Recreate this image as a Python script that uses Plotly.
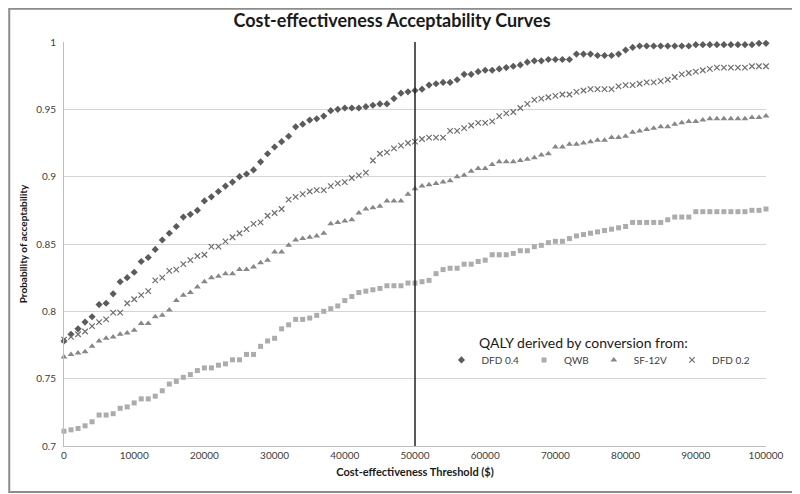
import plotly.graph_objects as go

thresholds = list(range(0, 100001, 1000))

dfd04 = [0.778, 0.783, 0.787, 0.792, 0.796, 0.805, 0.806, 0.813, 0.822, 0.825,
         0.829, 0.837, 0.840, 0.846, 0.853, 0.858, 0.863, 0.870, 0.872, 0.875,
         0.882, 0.885, 0.889, 0.893, 0.896, 0.900, 0.902, 0.905, 0.911, 0.917,
         0.922, 0.926, 0.930, 0.937, 0.939, 0.942, 0.943, 0.945, 0.949, 0.950,
         0.951, 0.951, 0.951, 0.952, 0.953, 0.954, 0.954, 0.958, 0.962, 0.963,
         0.964, 0.965, 0.968, 0.969, 0.970, 0.970, 0.972, 0.976, 0.976, 0.978,
         0.979, 0.979, 0.980, 0.981, 0.982, 0.983, 0.985, 0.986, 0.986, 0.987,
         0.987, 0.987, 0.987, 0.991, 0.991, 0.991, 0.990, 0.990, 0.990, 0.991,
         0.994, 0.996, 0.997, 0.997, 0.997, 0.997, 0.997, 0.997, 0.997, 0.997,
         0.998, 0.998, 0.998, 0.998, 0.998, 0.998, 0.998, 0.998, 0.998, 0.999,
         0.999]

qwb = [0.711, 0.712, 0.713, 0.715, 0.718, 0.723, 0.723, 0.724, 0.728, 0.729,
       0.732, 0.735, 0.735, 0.737, 0.741, 0.746, 0.748, 0.751, 0.753, 0.756,
       0.758, 0.758, 0.760, 0.761, 0.764, 0.764, 0.768, 0.768, 0.774, 0.778,
       0.780, 0.787, 0.790, 0.794, 0.794, 0.795, 0.797, 0.800, 0.802, 0.804,
       0.808, 0.811, 0.814, 0.815, 0.816, 0.817, 0.819, 0.819, 0.819, 0.821,
       0.821, 0.822, 0.823, 0.828, 0.831, 0.832, 0.832, 0.835, 0.835, 0.837,
       0.838, 0.842, 0.842, 0.842, 0.843, 0.845, 0.845, 0.848, 0.849, 0.851,
       0.852, 0.852, 0.854, 0.856, 0.857, 0.858, 0.859, 0.860, 0.861, 0.862,
       0.863, 0.866, 0.866, 0.866, 0.866, 0.866, 0.868, 0.870, 0.870, 0.870,
       0.874, 0.874, 0.874, 0.874, 0.874, 0.874, 0.874, 0.874, 0.875, 0.875,
       0.876]

sf12v = [0.766, 0.768, 0.769, 0.770, 0.774, 0.778, 0.780, 0.781, 0.783, 0.784,
         0.786, 0.791, 0.791, 0.796, 0.797, 0.801, 0.808, 0.812, 0.814, 0.818,
         0.822, 0.825, 0.826, 0.828, 0.828, 0.831, 0.831, 0.833, 0.836, 0.838,
         0.844, 0.844, 0.849, 0.853, 0.854, 0.855, 0.856, 0.858, 0.865, 0.866,
         0.867, 0.868, 0.873, 0.876, 0.877, 0.878, 0.882, 0.882, 0.882, 0.887,
         0.891, 0.893, 0.894, 0.895, 0.896, 0.897, 0.900, 0.901, 0.904, 0.906,
         0.906, 0.909, 0.911, 0.911, 0.911, 0.912, 0.913, 0.914, 0.916, 0.917,
         0.922, 0.922, 0.924, 0.924, 0.925, 0.926, 0.927, 0.927, 0.929, 0.929,
         0.930, 0.933, 0.934, 0.935, 0.936, 0.937, 0.937, 0.939, 0.940, 0.941,
         0.941, 0.942, 0.943, 0.943, 0.943, 0.943, 0.943, 0.943, 0.944, 0.944,
         0.945]

dfd02 = [0.779, 0.781, 0.783, 0.785, 0.789, 0.792, 0.794, 0.799, 0.799, 0.806,
         0.809, 0.812, 0.815, 0.823, 0.825, 0.830, 0.831, 0.835, 0.838, 0.841,
         0.842, 0.848, 0.848, 0.852, 0.855, 0.858, 0.861, 0.865, 0.866, 0.871,
         0.873, 0.876, 0.883, 0.885, 0.887, 0.889, 0.890, 0.890, 0.893, 0.895,
         0.896, 0.899, 0.901, 0.903, 0.912, 0.917, 0.918, 0.921, 0.923, 0.925,
         0.926, 0.928, 0.929, 0.929, 0.929, 0.934, 0.934, 0.936, 0.938, 0.940,
         0.940, 0.941, 0.945, 0.947, 0.948, 0.951, 0.954, 0.957, 0.958, 0.959,
         0.960, 0.961, 0.961, 0.963, 0.964, 0.965, 0.965, 0.965, 0.965, 0.967,
         0.968, 0.968, 0.969, 0.970, 0.970, 0.971, 0.972, 0.974, 0.976, 0.977,
         0.978, 0.979, 0.980, 0.981, 0.981, 0.981, 0.981, 0.981, 0.982, 0.982,
         0.982]

series_names = ["DFD 0.4", "QWB", "SF-12V", "DFD 0.2"]
y_tick_vals = [0.7, 0.75, 0.8, 0.85, 0.9, 0.95, 1.0]
y_tick_text = ["0.7", "0.75", "0.8", "0.85", "0.9", "0.95", "1"]
x_tick_vals = [0, 10000, 20000, 30000, 40000, 50000, 60000, 70000, 80000, 90000, 100000]
x_tick_text = ["0", "10000", "20000", "30000", "40000", "50000", "60000",
               "70000", "80000", "90000", "100000"]
ref_threshold = 50000
legend_title = "QALY derived by conversion from:"

FONT = "Lato, 'Open Sans', sans-serif"

fig = go.Figure()
styles = [
    dict(symbol="diamond", color="#5b5b5b", size=5.5),
    dict(symbol="square", color="#acacac", size=5),
    dict(symbol="triangle-up", color="#878787", size=6),
    dict(symbol="x-thin", color="#6e6e6e", size=5.5, line=dict(width=1.2, color="#6e6e6e")),
]
for name, ys, st in zip(series_names, [dfd04, qwb, sf12v, dfd02], styles):
    fig.add_trace(go.Scatter(
        x=thresholds, y=ys, mode="markers", name=name,
        marker=st, cliponaxis=False,
    ))

fig.add_shape(type="line", xref="x", yref="y", x0=ref_threshold, x1=ref_threshold,
              y0=0.7, y1=1.0, line=dict(color="#222222", width=1.5))

# outer chart border
fig.add_shape(type="rect", xref="paper", yref="paper",
              x0=-0.078, x1=1.044, y0=-0.114, y1=1.082,
              line=dict(color="#8c8c8c", width=2), layer="below")

fig.add_annotation(text=legend_title, xref="paper", yref="paper",
                   x=0.588, y=0.255, xanchor="left", yanchor="middle",
                   showarrow=False, font=dict(family=FONT, size=14, color="#1a1a1a"))

fig.update_layout(
    width=800, height=494,
    margin=dict(l=56, r=42, t=34, b=56),
    paper_bgcolor="white", plot_bgcolor="white",
    font=dict(family=FONT, size=10, color="#404040"),
    title=dict(text="<b>Cost-effectiveness Acceptability Curves</b>",
               x=0.48, xanchor="center", y=0.988, yanchor="top",
               font=dict(family=FONT, size=18, color="#1a1a1a")),
    xaxis=dict(range=[0, 100000], tickvals=x_tick_vals, ticktext=x_tick_text, ticks="",
               showgrid=False, zeroline=False, showline=True, automargin=False,
               linecolor="#bdbdbd", linewidth=1,
               tickfont=dict(size=10, color="#404040"),
               title=dict(text="<b>Cost-effectiveness Threshold ($)</b>",
                          font=dict(size=11, color="#1a1a1a"), standoff=8)),
    yaxis=dict(range=[0.7, 1.0], tickvals=y_tick_vals, ticktext=y_tick_text,
               ticks="", showgrid=True, gridcolor="#d4d4d4", gridwidth=1,
               zeroline=False, showline=True, linecolor="#bdbdbd", linewidth=1,
               automargin=False, ticklabelstandoff=5,
               tickfont=dict(size=10, color="#404040"),
               title=dict(text="<b>Probability of acceptability</b>",
                          font=dict(size=10, color="#1a1a1a"), standoff=6)),
    legend=dict(orientation="h", x=0.985, y=0.213, xanchor="right", yanchor="middle",
                bgcolor="rgba(0,0,0,0)",
                font=dict(size=10, color="#404040"),
                itemwidth=30, tracegroupgap=0),
    showlegend=True,
)

fig.write_html("out.html")
